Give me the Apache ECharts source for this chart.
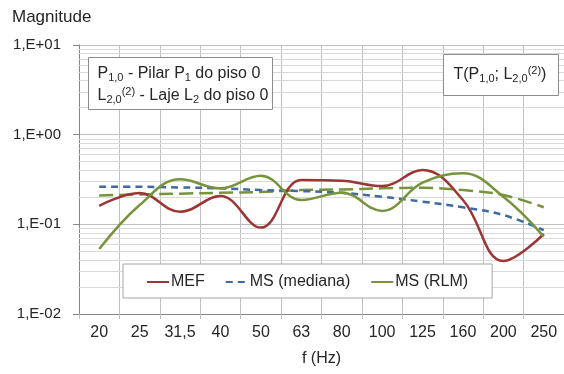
<!DOCTYPE html>
<html>
<head>
<meta charset="utf-8">
<script src="https://cdn.jsdelivr.net/npm/echarts@6/dist/echarts.min.js"></script>
<style>html,body{margin:0;padding:0;background:#fff}#c{width:564px;height:374px}</style>
</head>
<body>
<div id="c"></div>
<script>
var categories = ['20','25','31,5','40','50','63','80','100','125','160','200','250'];
var mef        = [0.161,0.223,0.138,0.207,0.092,0.312,0.306,0.267,0.403,0.187,0.039,0.078];
var msMediana  = [0.262,0.262,0.258,0.252,0.241,0.235,0.225,0.203,0.179,0.155,0.127,0.086];
var msRLM      = [0.053,0.164,0.318,0.252,0.348,0.187,0.225,0.141,0.291,0.371,0.203,0.073];
var msRLMdash  = [0.210,0.215,0.220,0.225,0.230,0.241,0.245,0.252,0.256,0.241,0.212,0.155];
var minorGrid  = [0.02,0.03,0.04,0.05,0.06,0.07,0.08,0.09,0.2,0.3,0.4,0.5,0.6,0.7,0.8,0.9,2,3,4,5,6,7,8,9];

var FONT = 'Liberation Sans';
var TXT = '#262626';
var chart = echarts.init(document.getElementById('c'), null, {renderer:'canvas'});
function fmt(v){
  var e = Math.round(Math.log10(v));
  var a = Math.abs(e);
  return '1,E' + (e>=0?'+':'-') + (a<10?'0':'') + a;
}
var richStyles = {
  n:{fontSize:16, fill:TXT, color:TXT, fontFamily:FONT, lineHeight:22},
  sub:{fontSize:11, fill:TXT, color:TXT, fontFamily:FONT, padding:[8,0,0,0], lineHeight:22},
  sup:{fontSize:11, fill:TXT, color:TXT, fontFamily:FONT, padding:[0,0,7,0], lineHeight:22}
};
chart.setOption({
  animation:false,
  textStyle:{fontFamily:FONT},
  grid:{left:79, top:45, right:-4, bottom:60, containLabel:false},
  legend:{
    left:123, top:264,
    data:['MEF','MS (mediana)','MS (RLM)'],
    borderColor:'#a6a6a6', borderWidth:1, backgroundColor:'#fff',
    padding:[10,24,8,23], itemGap:20, itemWidth:22, itemHeight:18,
    itemStyle:{opacity:0},
    textStyle:{fontSize:16, color:TXT, fontFamily:FONT, padding:[0,0,0,-3]}
  },
  xAxis:{
    type:'category', data:categories, boundaryGap:true,
    axisLine:{lineStyle:{color:'#868686', width:1}},
    axisTick:{show:true, length:5, lineStyle:{color:'#bfbfbf'}},
    axisLabel:{fontSize:16, color:TXT, margin:11, interval:0},
    splitLine:{show:true, interval:0, lineStyle:{color:'#c0c0c0', width:1}},
    name:'f (Hz)', nameLocation:'middle', nameGap:37,
    nameTextStyle:{fontSize:16, color:TXT}
  },
  yAxis:{
    type:'log', logBase:10, min:0.01, max:10,
    axisLine:{show:true, lineStyle:{color:'#868686'}},
    axisTick:{show:true, length:6, inside:false, lineStyle:{color:'#868686'}},
    axisLabel:{fontSize:15, color:TXT, margin:18, formatter:fmt},
    splitLine:{show:true, lineStyle:{color:'#bfbfbf'}}
  },
  graphic:[
    {type:'text', left:12, top:9, z:100, style:{text:'Magnitude', fontSize:17, fill:TXT, fontFamily:FONT}},
    {type:'group', left:88, top:57, z:100, children:[
      {type:'rect', z:100, shape:{x:0,y:0,width:184,height:52}, style:{fill:'#fff', stroke:'#8c8c8c', lineWidth:1}},
      {type:'text', z:101, x:9, y:5, style:{
        rich:richStyles,
        text:'{n|P}{sub|1,0}{n| - Pilar P}{sub|1}{n| do piso 0}\n{n|L}{sub|2,0}{sup|(2)}{n| - Laje L}{sub|2}{n| do piso 0}'
      }}
    ]},
    {type:'group', left:443, top:54, z:100, children:[
      {type:'rect', z:100, shape:{x:0,y:0,width:115,height:41}, style:{fill:'#fff', stroke:'#8c8c8c', lineWidth:1}},
      {type:'text', z:101, x:10, y:9, style:{
        rich:richStyles,
        text:'{n|T(P}{sub|1,0}{n|; L}{sub|2,0}{sup|(2)}{n|)}'
      }}
    ]}
  ],
  series:[
    {name:'MS (RLM) ', type:'line', data:msRLMdash, smooth:0.4, symbol:'none', z:2,
     lineStyle:{color:'#77933c', width:2.5, type:[14,6]}, itemStyle:{color:'#77933c'},
     markLine:{silent:true, symbol:'none', label:{show:false}, z:1,
       lineStyle:{color:'#d9d9d9', width:1, type:'solid'},
       data:minorGrid.map(function(v){return {yAxis:v};})}},
    {name:'MEF', type:'line', data:mef, smooth:0.4, symbol:'none', z:3,
     lineStyle:{color:'#9c3533', width:2.5}, itemStyle:{color:'#9c3533'}},
    {name:'MS (mediana)', type:'line', data:msMediana, smooth:0.4, symbol:'none', z:3,
     lineStyle:{color:'#3d6aa3', width:2.5, type:[7,5]}, itemStyle:{color:'#3d6aa3'}},
    {name:'MS (RLM)', type:'line', data:msRLM, smooth:0.4, symbol:'none', z:3,
     lineStyle:{color:'#77933c', width:2.5}, itemStyle:{color:'#77933c'}}
  ]
});
</script>
</body>
</html>
